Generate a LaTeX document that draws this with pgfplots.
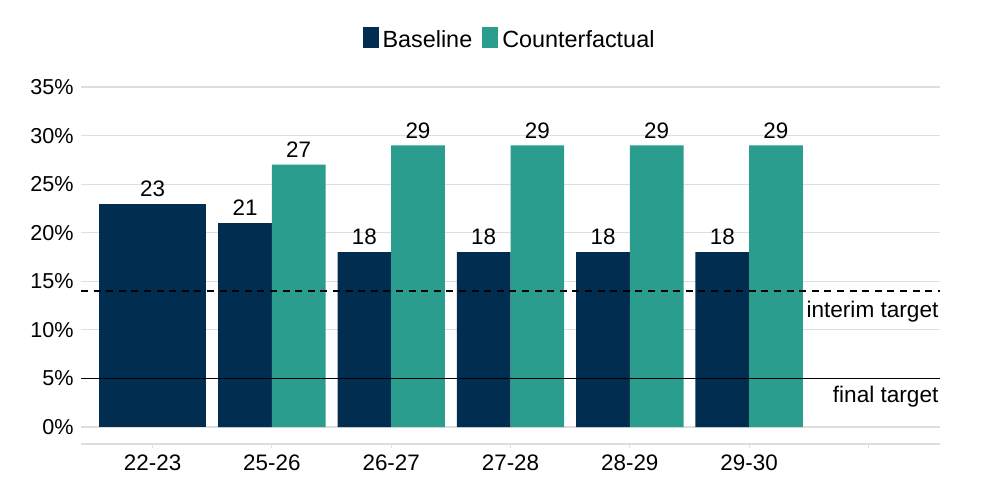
\documentclass[border=0pt]{standalone}
\usepackage{pgfplots}
\pgfplotsset{compat=1.18}
\usepackage{fontspec}
\setmainfont{Liberation Sans}

\definecolor{navy}{RGB}{0,45,80}
\definecolor{teal}{RGB}{42,157,143}
\definecolor{gridgrey}{RGB}{222,222,222}

\begin{document}
\begin{tikzpicture}
\useasboundingbox (-40.5pt,-22pt) rectangle (451.5pt,222pt);
\begin{axis}[
    scale only axis,
    width=429.5pt, height=178.5pt,
    xmin=-0.6, xmax=6.6,
    ymin=-1.75, ymax=35,
    axis line style={draw=none},
    xtick={0,1,2,3,4,5,6},
    xticklabels={22-23,25-26,26-27,27-28,28-29,29-30,{}},
    xtick pos=bottom,
    tick align=outside,
    major tick length=2pt,
    xtick style={gridgrey, line width=0.6pt},
    ytick={0,5,...,35},
    yticklabels={0\%,5\%,10\%,15\%,20\%,25\%,30\%,35\%},
    ytick style={draw=none},
    ymajorgrids,
    grid style={gridgrey, line width=0.6pt},
    x tick label style={font=\fontsize{11.2}{13}\selectfont},
    y tick label style={font=\fontsize{10.8}{12}\selectfont, xshift=1.8pt},
    /pgf/number format/assume math mode=true,
    legend columns=-1,
    legend style={draw=none, fill=none,
        at={(axis description cs:0.5,1.129)}, anchor=center,
        font=\fontsize{11.7}{13}\selectfont,
        /tikz/every even column/.append style={column sep=3pt}},
]
\draw[gridgrey, line width=0.6pt] (rel axis cs:0,0) -- (rel axis cs:1,0);

% 22-23: single wide bar
\addplot[ybar, bar width=0.9, bar shift=0, fill=navy, draw=none,
    nodes near coords, forget plot,
    every node near coord/.append style={font=\fontsize{11.2}{13}\selectfont, black}]
    coordinates {(0,23)};

\addplot[ybar, bar width=0.45, bar shift=-0.225, fill=navy, draw=none,
    nodes near coords,
    every node near coord/.append style={font=\fontsize{11.2}{13}\selectfont, black, xshift=-13.4pt},
    legend image code/.code={\fill[navy] (0pt,-3.3pt) rectangle (8pt,7pt);}]
    coordinates {(1,21) (2,18) (3,18) (4,18) (5,18)};
\addlegendentry{Baseline}

\addplot[ybar, bar width=0.45, bar shift=0.225, fill=teal, draw=none,
    nodes near coords,
    every node near coord/.append style={font=\fontsize{11.2}{13}\selectfont, black, xshift=13.4pt},
    legend image code/.code={\fill[teal] (0pt,-3.3pt) rectangle (8pt,7pt);}]
    coordinates {(1,27) (2,29) (3,29) (4,29) (5,29)};
\addlegendentry{Counterfactual}

% targets
\addplot[black, line width=0.6pt, dash pattern=on 3.5pt off 2.8pt, forget plot]
    coordinates {(-0.6,14) (6.6,14)};
\addplot[black, line width=0.8pt, forget plot]
    coordinates {(-0.6,5) (6.6,5)};

\node[anchor=east, inner sep=0pt, font=\fontsize{11.3}{13}\selectfont]
    at (axis cs:6.59,11.84) {interim target};
\node[anchor=east, inner sep=0pt, font=\fontsize{11.3}{13}\selectfont]
    at (axis cs:6.59,3.12) {final target};
\end{axis}
\end{tikzpicture}
\end{document}
